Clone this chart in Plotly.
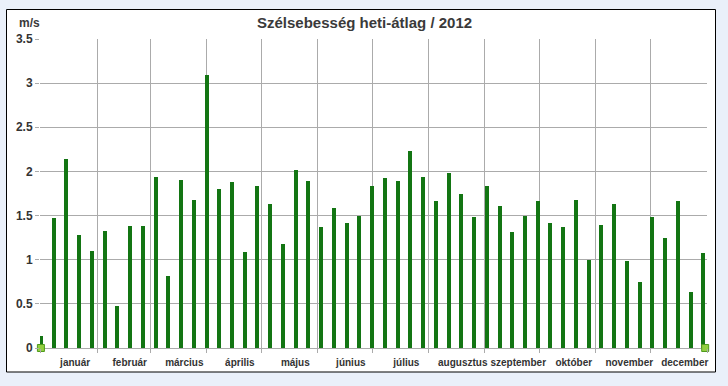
import plotly.graph_objects as go
import pandas as pd

# ---- data ----
week_start = "2012-01-01"
wind_speed = [0.14, 1.47, 2.14, 1.28, 1.10, 1.33, 0.48, 1.38, 1.38, 1.94,
              0.81, 1.90, 1.68, 3.09, 1.80, 1.88, 1.09, 1.84, 1.63, 1.18,
              2.02, 1.89, 1.37, 1.59, 1.42, 1.50, 1.83, 1.92, 1.89, 2.23,
              1.94, 1.66, 1.98, 1.74, 1.48, 1.84, 1.61, 1.31, 1.50, 1.67,
              1.42, 1.37, 1.68, 1.00, 1.39, 1.63, 0.98, 0.75, 1.48, 1.25,
              1.67, 0.63, 1.08]
week_dates = pd.date_range(week_start, periods=len(wind_speed), freq="7D")

month_names = ["január", "február", "március", "április", "május", "június",
               "július", "augusztus", "szeptember", "október", "november", "december"]
month_starts = pd.date_range("2012-01-01", "2013-01-01", freq="MS")
month_mids = [s + (e - s) / 2 for s, e in zip(month_starts[:-1], month_starts[1:])]

end_dates = ["2012-01-01", "2012-12-31"]
end_values = [0, 0]

y_ticks = [0, 0.5, 1, 1.5, 2, 2.5, 3, 3.5]

# ---- figure ----
grid = "#ababab"
txt = "#333333"
fig = go.Figure()
fig.add_trace(go.Bar(
    x=week_dates, y=wind_speed,
    width=2.2 * 86400000,
    marker=dict(color="#137513", line=dict(width=0)),
    showlegend=False, hoverinfo="x+y",
))
fig.add_trace(go.Scatter(
    x=end_dates, y=end_values, mode="markers",
    marker=dict(symbol="square", size=7, color="#92cf3f",
                line=dict(color="#4f9a1e", width=1)),
    cliponaxis=False, showlegend=False,
))

L, R, T, B = 40, 21, 39, 38
W, H = 728, 386
pw, ph = W - L - R, H - T - B

def px_x(p):
    return (p - L) / pw

def px_y(p):
    return (H - B - p) / ph

fig.update_layout(
    width=W, height=H,
    margin=dict(l=L, r=R, t=T, b=B, pad=0),
    paper_bgcolor="#eaf0fa",
    plot_bgcolor="white",
    font=dict(family="Liberation Sans, Arial, sans-serif", color=txt),
    bargap=0,
    shapes=[dict(type="rect", xref="paper", yref="paper", layer="below",
                 x0=px_x(6.5), x1=px_x(715.5), y0=px_y(372), y1=px_y(9.5),
                 fillcolor="white", line=dict(color="black", width=1))],
    annotations=[
        dict(text="<b>Szélsebesség heti-átlag / 2012</b>", xref="paper", yref="paper",
             x=px_x(364), y=px_y(22), xanchor="center", yanchor="middle",
             showarrow=False, font=dict(size=15, color="#3a3a3a")),
        dict(text="<b>m/s</b>", xref="paper", yref="paper",
             x=px_x(17), y=px_y(23), xanchor="left", yanchor="middle",
             showarrow=False, font=dict(size=12, color="#3a3a3a")),
    ],
    xaxis=dict(
        type="date",
        range=["2011-12-31 12:00", "2013-01-01 00:00"],
        tickmode="array", tickvals=month_mids, ticktext=month_names,
        ticks="", showgrid=False, zeroline=False, showline=False,
        tickfont=dict(size=10, color=txt, family="Liberation Sans, Arial, sans-serif", weight="bold"),
        ticklabelshift=6, ticklabelstandoff=7,
        minor=dict(tickmode="array", tickvals=list(month_starts), showgrid=True,
                   gridcolor=grid, gridwidth=1, ticks="outside", ticklen=4, tickcolor=grid),
    ),
    yaxis=dict(
        range=[0, 3.5], tickmode="array", tickvals=y_ticks,
        showgrid=True, gridcolor=grid, gridwidth=1,
        zeroline=True, zerolinecolor=grid, zerolinewidth=1,
        ticks="outside", ticklen=4, tickcolor=grid,
        tickfont=dict(size=12, color=txt, weight="bold"),
        showline=False,
    ),
)

fig.write_html("out.html", config={"displayModeBar": False},
               post_script="document.body.style.margin='0';document.body.style.overflow='hidden';")
